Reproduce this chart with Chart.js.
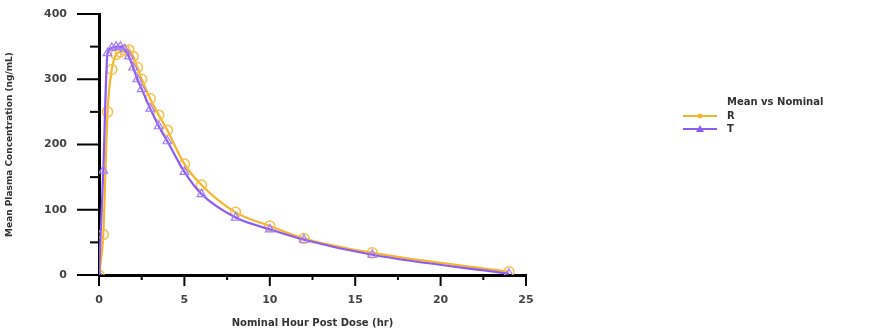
<!DOCTYPE html>
<html>
<head>
<meta charset="utf-8">
<script src="https://cdn.jsdelivr.net/npm/chart.js@4/dist/chart.umd.min.js"></script>
<style>
  html, body { margin: 0; padding: 0; background: #fff; }
  #wrap { position: relative; width: 872px; height: 333px; }
  #legend { position: absolute; left: 683px; top: 96px; font-family: "DejaVu Sans", sans-serif; font-size: 10px; color: #333; }
  #legend .title { margin-left: 44px; height: 13px; font-weight: bold; }
  #legend .row { display: flex; align-items: center; height: 13px; }
  #legend .row span { margin-left: 10px; font-weight: bold; }
</style>
</head>
<body>
<div id="wrap">
  <canvas id="myChart" width="872" height="333"></canvas>
  <div id="legend">
    <div class="title">Mean vs Nominal</div>
    <div class="row"><svg width="34" height="10"><line x1="0" y1="5" x2="34" y2="5" stroke="#f7b52c" stroke-width="2"/><circle cx="17" cy="5" r="2.5" fill="#f7b52c"/></svg><span>R</span></div>
    <div class="row"><svg width="34" height="10"><line x1="0" y1="5" x2="34" y2="5" stroke="#8c5cf6" stroke-width="2"/><polygon points="17,1 21,8 13,8" fill="#8c5cf6"/></svg><span>T</span></div>
  </div>
</div>
<script>
const hours = [0, 0.25, 0.5, 0.75, 1, 1.25, 1.5, 1.75, 2, 2.25, 2.5, 3, 3.5, 4, 5, 6, 8, 10, 12, 16, 24]
const seriesR = [0, 62, 250, 315, 338, 342, 345, 345, 335, 318, 300, 270, 245, 222, 170, 138, 96, 75, 56, 34, 5]
const seriesT = [0, 160, 340, 348, 350, 350, 346, 335, 318, 300, 285, 255, 228, 205, 158, 124, 88, 70, 54, 31, 2]
const xTicks = [0, 5, 10, 15, 20, 25]
const yTicks = [0, 100, 200, 300, 400]

const toPoints = (ys) => hours.map((h, i) => ({ x: h, y: ys[i] }))

const tickMarks = {
  id: 'tickMarks',
  afterDraw(chart) {
    const { ctx, chartArea, scales } = chart
    ctx.save()
    ctx.strokeStyle = '#000'
    ctx.lineWidth = 2
    scales.y.ticks.forEach(t => {
      const p = scales.y.getPixelForValue(t.value)
      const len = yTicks.includes(t.value) ? 22 : 9
      ctx.beginPath()
      ctx.moveTo(chartArea.left - len, p)
      ctx.lineTo(chartArea.left, p)
      ctx.stroke()
    })
    scales.x.ticks.forEach(t => {
      const p = scales.x.getPixelForValue(t.value)
      const len = xTicks.includes(t.value) ? 11 : 5
      ctx.beginPath()
      ctx.moveTo(p, chartArea.bottom)
      ctx.lineTo(p, chartArea.bottom + len)
      ctx.stroke()
    })
    ctx.restore()
  }
}

const ctx = document.getElementById('myChart')

new Chart(ctx, {
  type: 'line',
  data: {
    datasets: [{
      label: 'T',
      data: toPoints(seriesT),
      borderColor: '#8c5cf6',
      backgroundColor: 'rgba(0,0,0,0)',
      borderWidth: 2.2,
      pointStyle: 'triangle',
      pointRadius: 5,
      pointBorderWidth: 1.2,
      pointBorderColor: '#a17cf8',
      cubicInterpolationMode: 'monotone',
      order: 1
    }, {
      label: 'R',
      data: toPoints(seriesR),
      borderColor: '#f7b52c',
      backgroundColor: 'rgba(0,0,0,0)',
      borderWidth: 2.2,
      pointStyle: 'circle',
      pointRadius: 5,
      pointBorderWidth: 1.5,
      pointBorderColor: '#f7c04a',
      cubicInterpolationMode: 'monotone',
      order: 2
    }]
  },
  options: {
    responsive: false,
    animation: false,
    layout: { padding: { top: 0, right: 346, left: 0, bottom: 0 } },
    plugins: { legend: { display: false }, tooltip: { enabled: false } },
    scales: {
      x: {
        type: 'linear',
        min: 0,
        max: 25,
        afterFit(scale) { scale.height = 58 },
        grid: { display: false },
        border: { display: true, color: '#000', width: 3 },
        ticks: {
          stepSize: 2.5,
          padding: 11,
          color: '#444',
          font: { family: 'DejaVu Sans', size: 11, weight: 'bold' },
          maxRotation: 0,
          callback: (v) => xTicks.includes(v) ? String(v) : ''
        },
        title: {
          display: true,
          text: 'Nominal Hour Post Dose (hr)',
          color: '#333',
          padding: { top: 8 },
          font: { family: 'DejaVu Sans', size: 10, weight: 'bold' }
        }
      },
      y: {
        min: 0,
        max: 400,
        afterFit(scale) {
          scale.width = 99
          scale.paddingTop = 14
          scale.paddingBottom = 0
        },
        grid: { display: false },
        border: { display: true, color: '#000', width: 3 },
        ticks: {
          stepSize: 50,
          padding: 24,
          color: '#444',
          font: { family: 'DejaVu Sans', size: 11, weight: 'bold' },
          callback: (v) => yTicks.includes(v) ? String(v) : ''
        },
        title: {
          display: true,
          text: 'Mean Plasma Concentration (ng/mL)',
          color: '#333',
          padding: { bottom: 2 },
          font: { family: 'DejaVu Sans', size: 9, weight: 'bold' }
        }
      }
    }
  },
  plugins: [tickMarks]
})
</script>
</body>
</html>
